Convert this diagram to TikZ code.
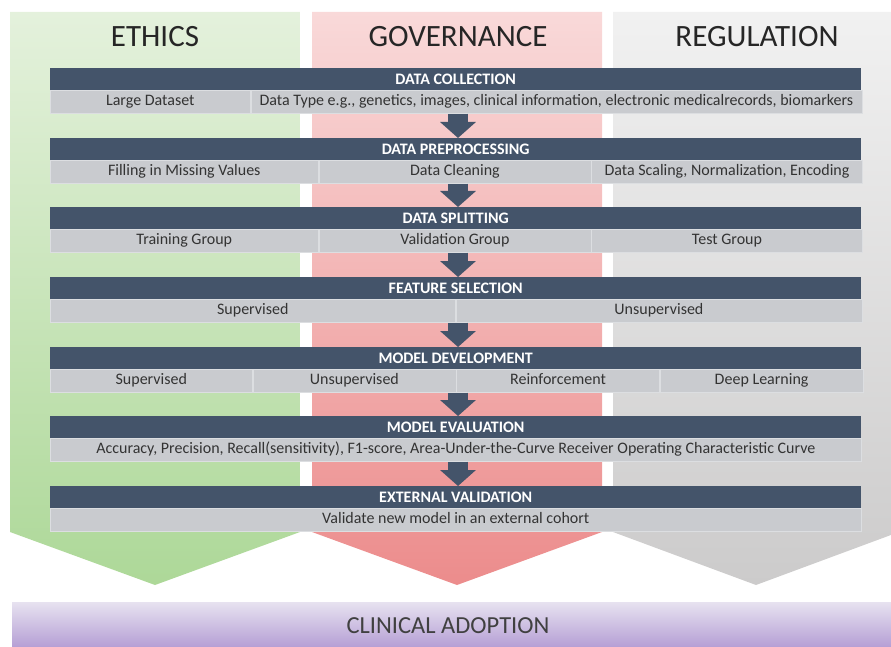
\documentclass[tikz,border=0pt]{standalone}
\usepackage{fontspec}
\setmainfont{Carlito}
\usetikzlibrary{arrows.meta}

\definecolor{barblue}{HTML}{44546A}
\definecolor{rowgrey}{HTML}{C9CBCF}
\definecolor{cellline}{HTML}{DCDEE1}
\definecolor{ethtop}{HTML}{E4F1DC}
\definecolor{ethbot}{HTML}{ADD898}
\definecolor{govtop}{HTML}{F9D9D9}
\definecolor{govbot}{HTML}{EC8C8C}
\definecolor{regtop}{HTML}{F1F1F1}
\definecolor{regbot}{HTML}{CCCBCB}
\definecolor{adotop}{HTML}{E7E2F0}
\definecolor{adobot}{HTML}{B29AD3}

\begin{document}
\begin{tikzpicture}
  [x=1pt,y=-1pt,
   title/.style={font=\fontsize{31}{31}\selectfont,text=black!85},
   head/.style={fill=barblue,text=white,font=\bfseries\fontsize{16}{16}\selectfont,
                minimum width=811pt,minimum height=22pt,inner sep=0pt,anchor=north west},
   cell/.style={fill=rowgrey,draw=cellline,line width=0.6pt,text=black!80,
                font=\fontsize{16}{16}\selectfont,text height=11.5pt,text depth=3.5pt,
                minimum height=23pt,inner sep=0pt,anchor=north west},
   flow/.style={draw=barblue,line width=20pt,-{Triangle[width=35pt,length=16pt]}}]
\useasboundingbox (0,0) rectangle (891,647);

% three pillars
\shade [top color=ethtop,bottom color=ethbot]
  (10,12) -- (300,12) -- (300,532) -- (155,585) -- (10,532) -- cycle;
\shade [top color=govtop,bottom color=govbot]
  (312,12) -- (602,12) -- (602,532) -- (457,585) -- (312,532) -- cycle;
\shade [top color=regtop,bottom color=regbot]
  (613,12) -- (899,12) -- (899,532) -- (756,585) -- (613,532) -- cycle;

\node [title] (eth) at (155,37) {ETHICS};
\node [title] (gov) at (458,37) {GOVERNANCE};
\node [title] (reg) at (757,37) {REGULATION};

% base bar
\shade [top color=adotop,bottom color=adobot] (12,602) rectangle (895,650);
\node [font=\fontsize{24.5}{24.5}\selectfont,text=black!75] (ado) at (448,626) {CLINICAL ADOPTION};

\coordinate (mid) at (458,0);

% pipeline rows
\node [head] (t1) at (50,68) {DATA COLLECTION};
\node [cell,minimum width=200pt] (c11) at (50,90) {Large Dataset};
\node [cell,minimum width=611pt] (c12) at (c11.north east)
  {Data Type e.g., genetics, images, clinical information, electronic medicalrecords, biomarkers};

\node [head] (t2) at (50,138) {DATA PREPROCESSING};
\node [cell,minimum width=268pt] (c21) at (50,160) {Filling in Missing Values};
\node [cell,minimum width=272pt] (c22) at (c21.north east) {Data Cleaning};
\node [cell,minimum width=271pt] (c23) at (c22.north east) {Data Scaling, Normalization, Encoding};

\node [head] (t3) at (50,207) {DATA SPLITTING};
\node [cell,minimum width=268pt] (c31) at (50,229) {Training Group};
\node [cell,minimum width=272pt] (c32) at (c31.north east) {Validation Group};
\node [cell,minimum width=271pt] (c33) at (c32.north east) {Test Group};

\node [head] (t4) at (50,277) {FEATURE SELECTION};
\node [cell,minimum width=405pt] (c41) at (50,299) {Supervised};
\node [cell,minimum width=406pt] (c42) at (c41.north east) {Unsupervised};

\node [head] (t5) at (50,347) {MODEL DEVELOPMENT};
\node [cell,minimum width=202pt] (c51) at (50,369) {Supervised};
\node [cell,minimum width=203pt] (c52) at (c51.north east) {Unsupervised};
\node [cell,minimum width=203pt] (c53) at (c52.north east) {Reinforcement};
\node [cell,minimum width=203pt] (c54) at (c53.north east) {Deep Learning};

\node [head] (t6) at (50,416) {MODEL EVALUATION};
\node [cell,minimum width=811pt] (c61) at (50,438)
  {Accuracy, Precision, Recall(sensitivity), F1-score, Area-Under-the-Curve Receiver Operating Characteristic Curve};

\node [head] (t7) at (50,486) {EXTERNAL VALIDATION};
\node [cell,minimum width=811pt] (c71) at (50,508) {Validate new model in an external cohort};

% arrows between the steps
\foreach \i/\j in {1/2,2/3,3/4,4/5,5/6,6/7}
  \draw [flow] (c\i1.south -| mid) -- (t\j.north -| mid);
\end{tikzpicture}
\end{document}
